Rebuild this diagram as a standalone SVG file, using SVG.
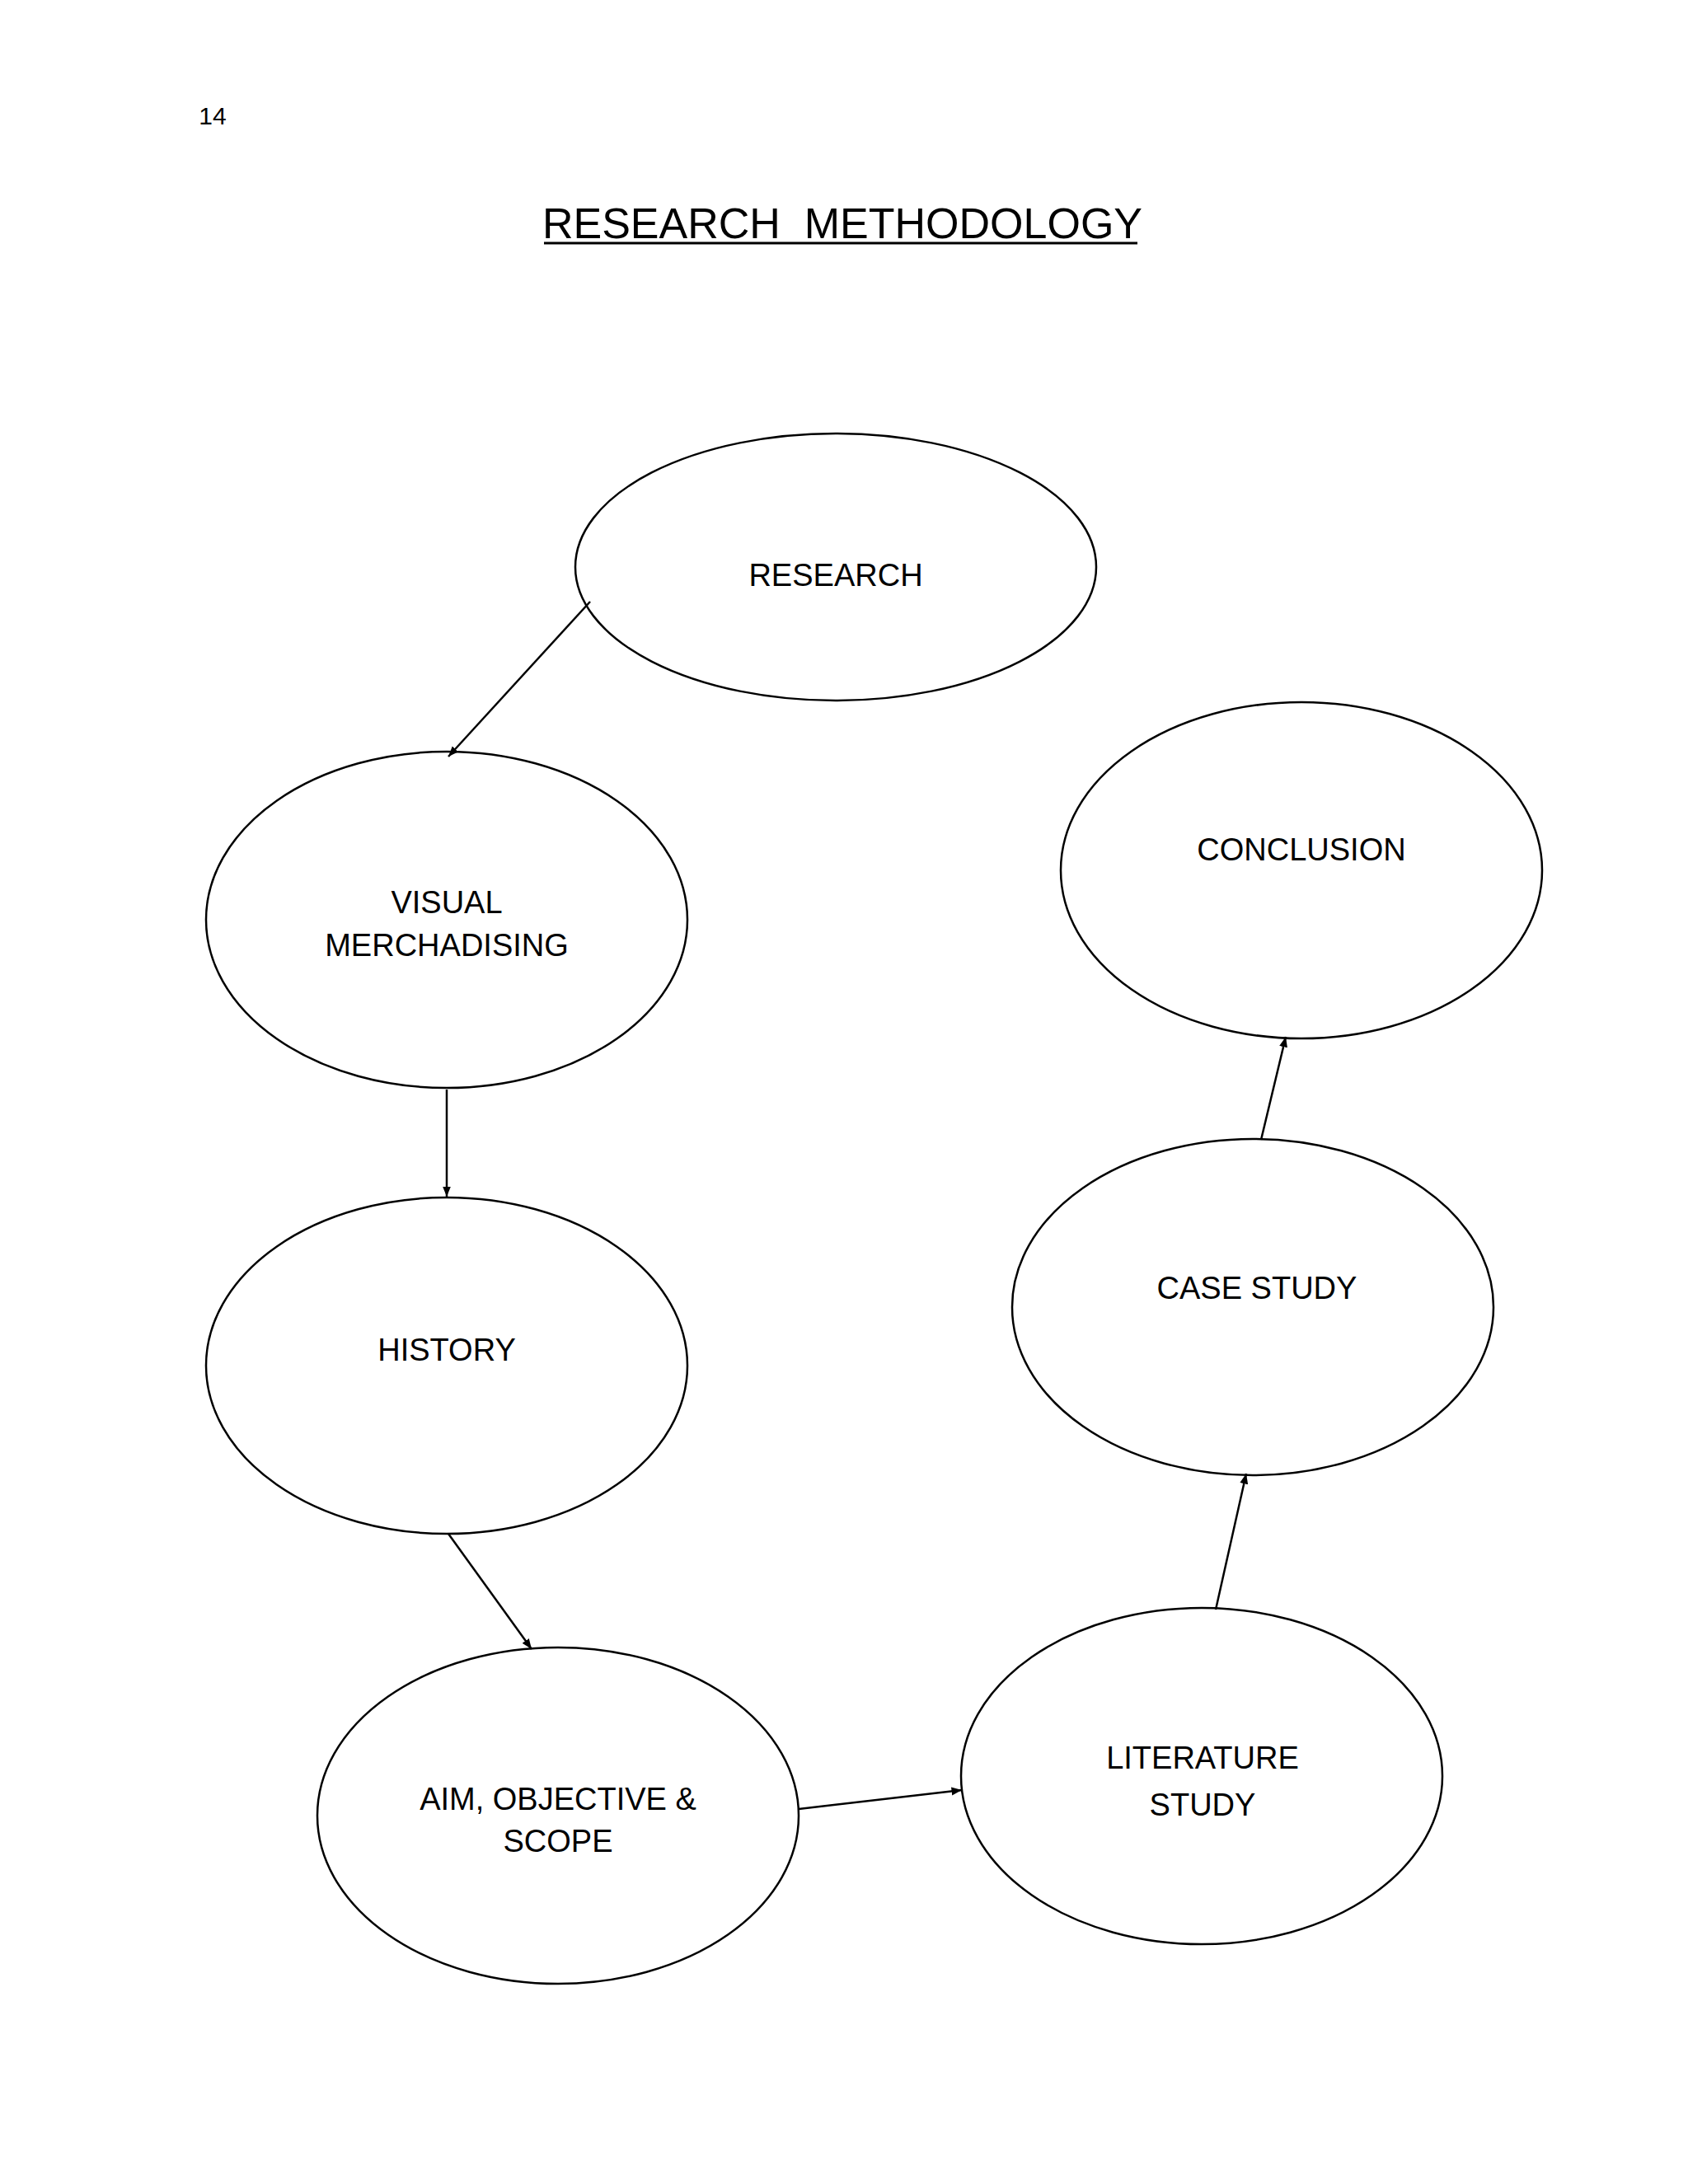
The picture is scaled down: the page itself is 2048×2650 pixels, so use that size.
<svg xmlns="http://www.w3.org/2000/svg" width="2048" height="2650" viewBox="0 0 2048 2650">
<style>
text{font-family:"Liberation Sans",Arial,sans-serif;fill:#000;text-anchor:middle}
.n ellipse{fill:none;stroke:#000;stroke-width:2.5}
.n text{font-size:38px}
#edges line{stroke:#000;stroke-width:2.5;marker-end:url(#ah)}
</style>
<defs><marker id="ah" viewBox="0 0 10 10" refX="10" refY="5" markerWidth="5" markerHeight="5" orient="auto" markerUnits="strokeWidth"><path d="M0,1 L10,5 L0,9 z" fill="#000"/></marker></defs>
<rect width="2048" height="2650" fill="#fff"/>
<text x="258" y="151" style="font-size:30px">14</text>
<text x="1022" y="289" style="font-size:52px">RESEARCH&#160; METHODOLOGY</text>
<line x1="660" y1="295" x2="1380" y2="295" stroke="#000" stroke-width="3"/>
<g id="research" class="n"><ellipse cx="1014" cy="688" rx="316" ry="162"/><text x="1014" y="711">RESEARCH</text></g>
<g id="visual" class="n"><ellipse cx="542" cy="1116" rx="292" ry="204"/><text x="542" y="1108">VISUAL</text><text x="542" y="1160">MERCHADISING</text></g>
<g id="history" class="n"><ellipse cx="542" cy="1657" rx="292" ry="204"/><text x="542" y="1651">HISTORY</text></g>
<g id="aim" class="n"><ellipse cx="677" cy="2203" rx="292" ry="204"/><text x="677" y="2196">AIM, OBJECTIVE &amp;</text><text x="677" y="2247">SCOPE</text></g>
<g id="literature" class="n"><ellipse cx="1458" cy="2155" rx="292" ry="204"/><text x="1459" y="2146">LITERATURE</text><text x="1459" y="2203">STUDY</text></g>
<g id="case" class="n"><ellipse cx="1520" cy="1586" rx="292" ry="204"/><text x="1525" y="1576">CASE STUDY</text></g>
<g id="conclusion" class="n"><ellipse cx="1579" cy="1056" rx="292" ry="204"/><text x="1579" y="1044">CONCLUSION</text></g>
<g id="edges">
<line x1="716" y1="730" x2="544" y2="918"/>
<line x1="542" y1="1322" x2="542" y2="1452"/>
<line x1="544" y1="1861" x2="645" y2="2001"/>
<line x1="969" y1="2195" x2="1167" y2="2172"/>
<line x1="1475" y1="1953" x2="1512" y2="1788"/>
<line x1="1530" y1="1383" x2="1560" y2="1258"/>
</g>
</svg>
